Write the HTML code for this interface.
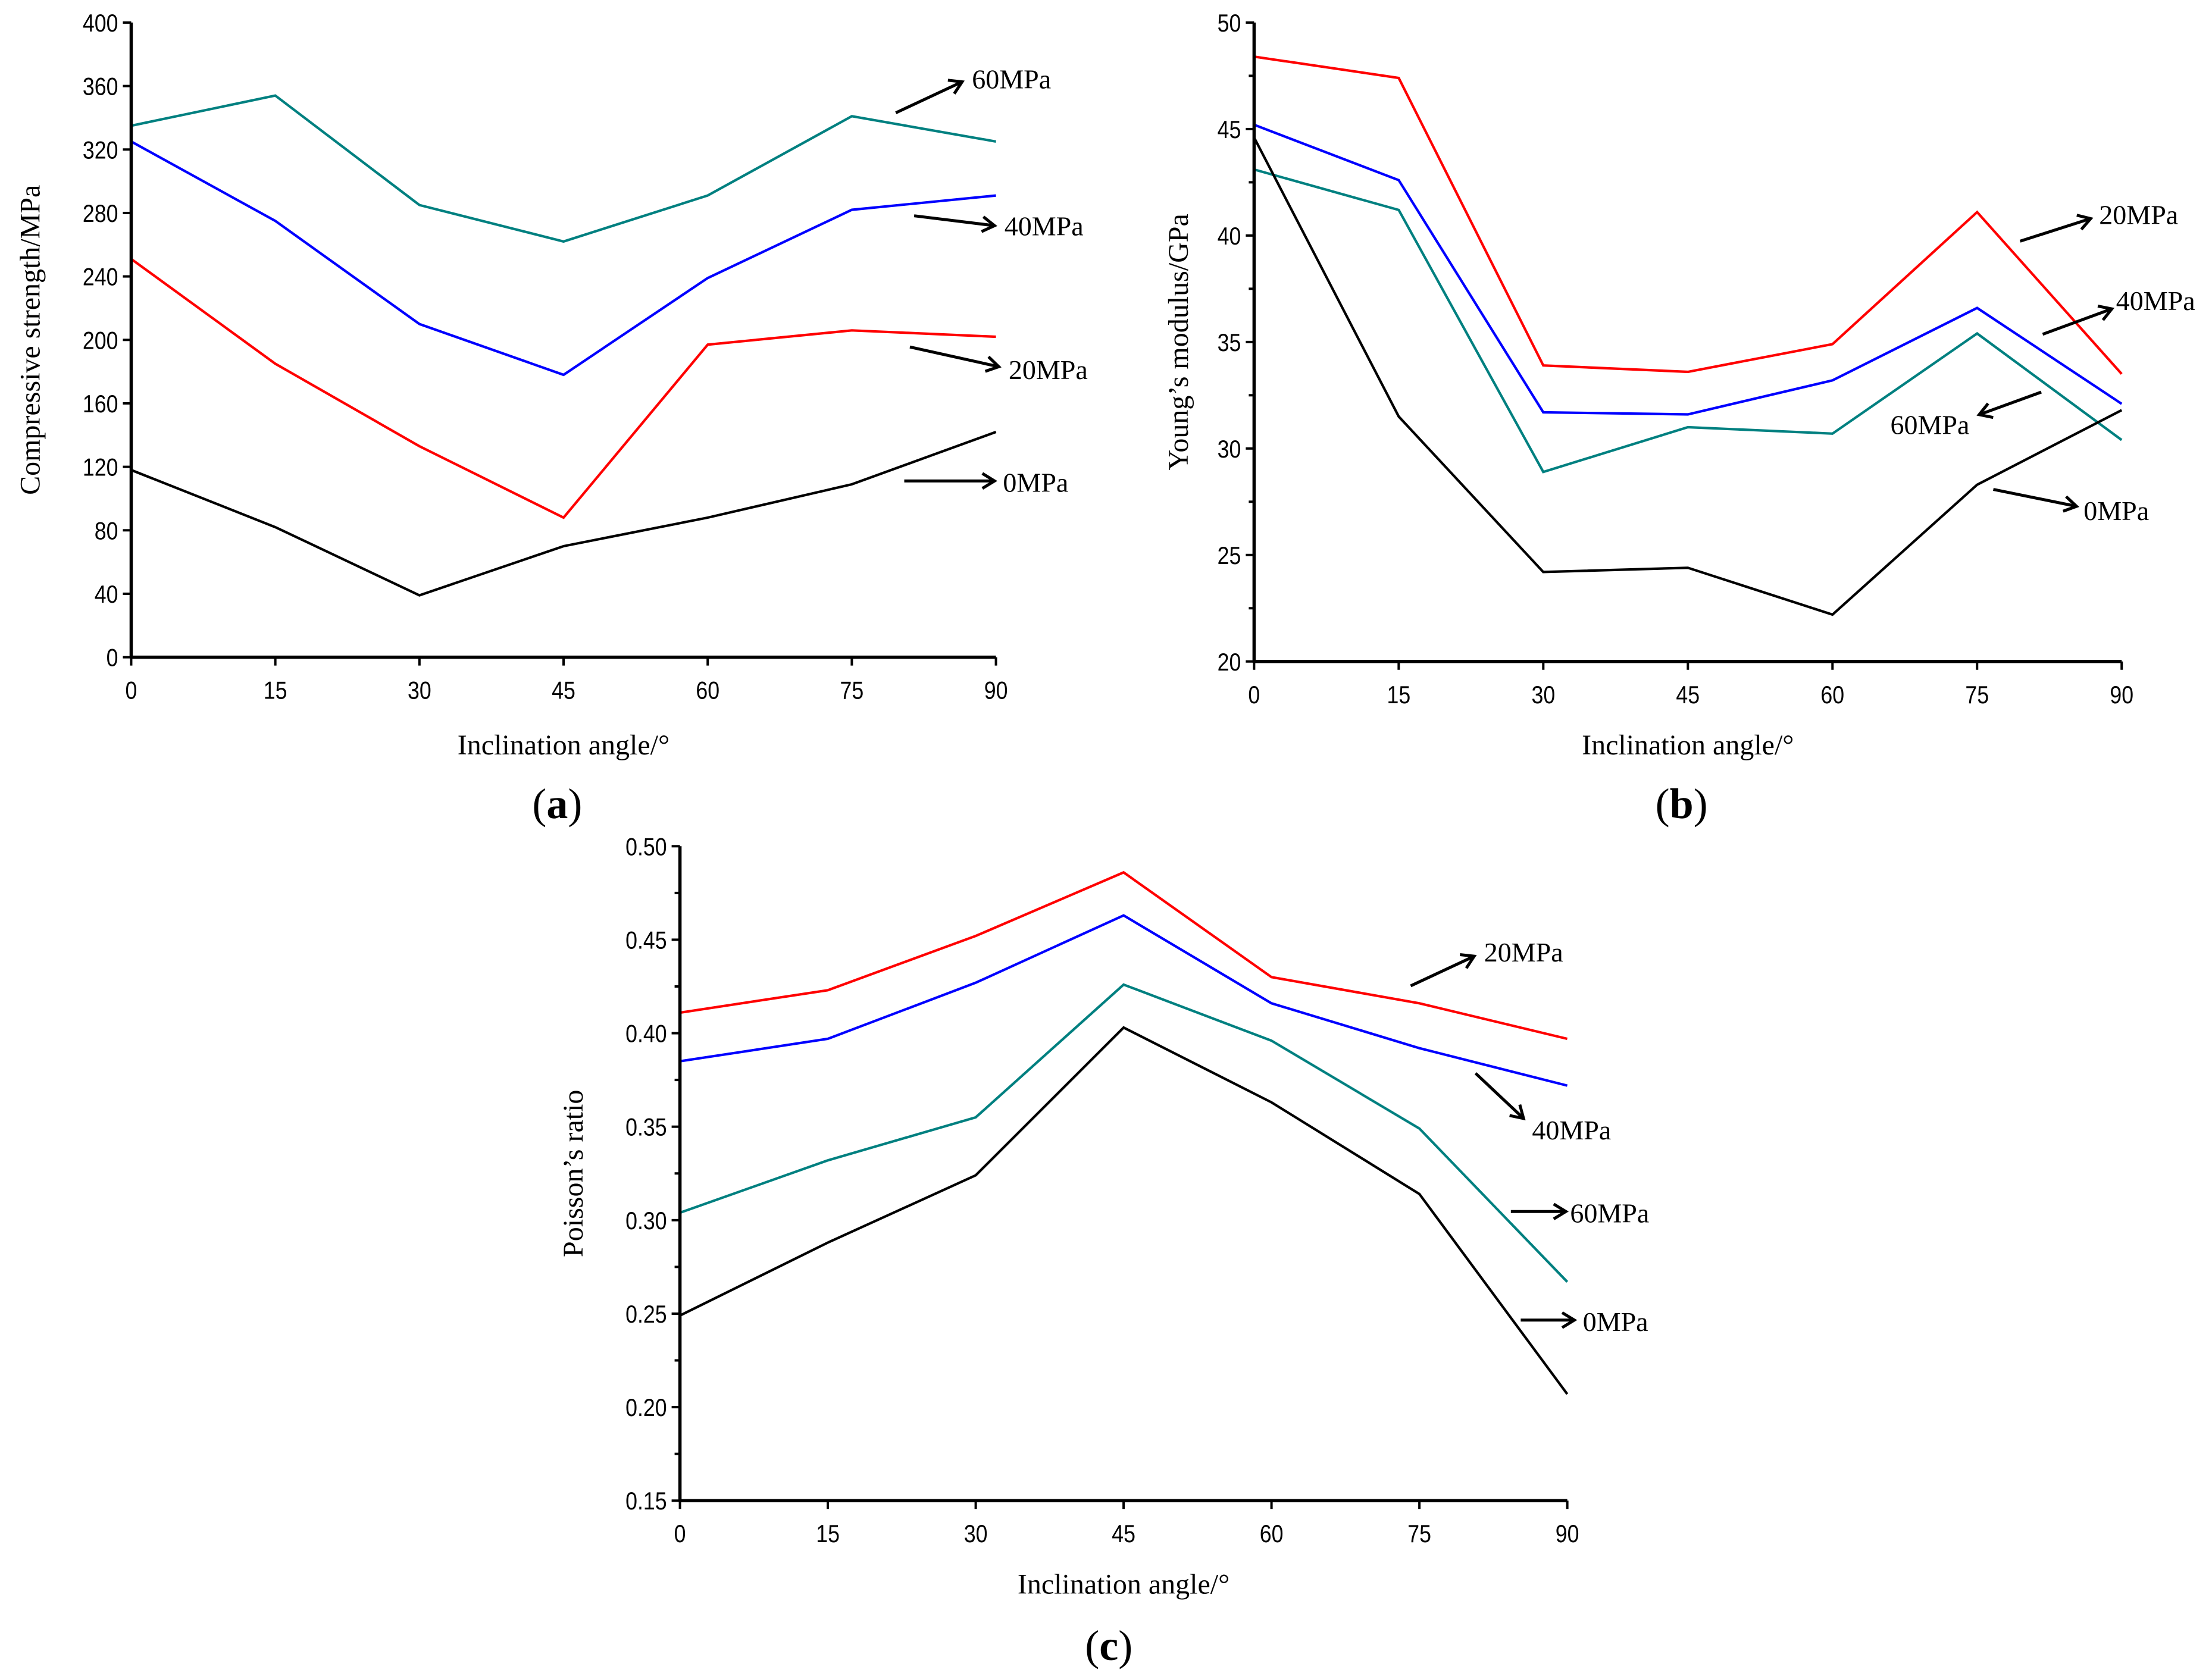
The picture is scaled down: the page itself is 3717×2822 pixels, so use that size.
<!DOCTYPE html>
<html><head><meta charset="utf-8"><style>
html,body{margin:0;padding:0;background:#fff;}
svg{display:block;}
</style></head>
<body>
<svg id="fig" xmlns="http://www.w3.org/2000/svg" width="3717" height="2822" viewBox="0 0 3717 2822"></svg>
<script>
const xCats=[0,15,30,45,60,75,90];
const a60=[335,354,285,262,291,341,325];
const a40=[325,275,210,178,239,282,291];
const a20=[251,185,133,88,197,206,202];
const a0=[118,82,39,70,88,109,142];
const aTicks=[0,40,80,120,160,200,240,280,320,360,400];
const b20=[48.4,47.4,33.9,33.6,34.9,41.1,33.5];
const b40=[45.2,42.6,31.7,31.6,33.2,36.6,32.1];
const b60=[43.1,41.2,28.9,31.0,30.7,35.4,30.4];
const b0=[44.6,31.5,24.2,24.4,22.2,28.3,31.8];
const bTicks=[20,25,30,35,40,45,50];
const c20=[0.411,0.423,0.452,0.486,0.430,0.416,0.397];
const c40=[0.385,0.397,0.427,0.463,0.416,0.392,0.372];
const c60=[0.304,0.332,0.355,0.426,0.396,0.349,0.267];
const c0=[0.249,0.288,0.324,0.403,0.363,0.314,0.207];
const cTicks=[0.15,0.20,0.25,0.30,0.35,0.40,0.45,0.50];

const S=2.3705;
const NS='http://www.w3.org/2000/svg';
const svg=document.getElementById('fig');
function el(tag,attrs,parent,text){const e=document.createElementNS(NS,tag);for(const k in attrs)e.setAttribute(k,attrs[k]);if(text!==undefined)e.textContent=text;(parent||svg).appendChild(e);return e;}
const COL={'0':'#000','20':'#ff0000','40':'#0000ff','60':'#008080'};

function panel(id,p){
  const g=el('g',{});
  
  
  const X0=p.x0*S,X1=p.x1*S,Y0=p.y0*S,Y1=p.y1*S;
  const xs=v=>X0+(v-0)/(90-0)*(X1-X0);
  const ys=v=>Y0+(v-p.ymin)/(p.ymax-p.ymin)*(Y1-Y0);
  p.series.forEach(s=>{
    const pts=xCats.map((c,i)=>xs(c).toFixed(1)+','+ys(s.v[i]).toFixed(1)).join(' ');
    const pl=el('polyline',{points:pts,fill:'none',stroke:COL[s.k],'stroke-width':4.2,'stroke-linejoin':'miter'},g);
    
    
  });
  const ax=el('g',{},g);
  
  
  el('line',{x1:X0,y1:Y0+2,x2:X0,y2:Y1,stroke:'#000','stroke-width':5.5},ax);
  el('line',{x1:X0-2,y1:Y0,x2:X1,y2:Y0,stroke:'#000','stroke-width':5.5},ax);
  p.ticks.forEach((t,i)=>{
    const y=ys(t);
    el('line',{x1:X0-14,y1:y,x2:X0,y2:y,stroke:'#000','stroke-width':4},ax);
    const tx=el('text',{x:X0-22,y:y+15,'text-anchor':'end','font-family':'Liberation Sans, sans-serif','font-size':42,transform:`translate(${X0-22},0) scale(0.85,1) translate(${-(X0-22)},0)`},ax,p.fmt(t));
    
    
    if(p.minor&&i<p.ticks.length-1){const ym=ys((t+p.ticks[i+1])/2);el('line',{x1:X0-9,y1:ym,x2:X0,y2:ym,stroke:'#000','stroke-width':4},ax);}
  });
  xCats.forEach(c=>{
    const x=xs(c);
    el('line',{x1:x,y1:Y0,x2:x,y2:Y0+14,stroke:'#000','stroke-width':4},ax);
    const tx=el('text',{x:x,y:Y0+70,'text-anchor':'middle','font-family':'Liberation Sans, sans-serif','font-size':42,transform:`translate(${x},0) scale(0.85,1) translate(${-x},0)`},ax,String(c));
    
    
  });
  const xt=el('text',{x:(X0+X1)/2,y:p.xtY*S,'text-anchor':'middle','font-family':'Liberation Serif, serif','font-size':48},g,'Inclination angle/°');
  
  
  const yt=el('text',{x:0,y:0,'text-anchor':'middle','font-family':'Liberation Serif, serif','font-size':48,transform:`translate(${p.ytX*S},${(Y0+Y1)/2}) rotate(-90)`},g,p.ytitle);
  
  
  const lb=el('text',{x:p.lab[0]*S,y:p.lab[1]*S,'text-anchor':'middle','font-family':'Liberation Serif, serif','font-size':72},g);
  
  
  el('tspan',{},lb,'(');el('tspan',{'font-weight':'bold'},lb,id);el('tspan',{},lb,')');
  p.ann.forEach(a=>{
    const ag=el('g',{},g);
    
    
    const x1=a.a[0]*S,y1=a.a[1]*S,x2=a.a[2]*S,y2=a.a[3]*S;
    el('line',{x1:x1,y1:y1,x2:x2,y2:y2,stroke:'#000','stroke-width':5},ag);
    const ang=Math.atan2(y2-y1,x2-x1),L=24,w=0.55;
    const p1=[x2-L*Math.cos(ang-w),y2-L*Math.sin(ang-w)],p2=[x2-L*Math.cos(ang+w),y2-L*Math.sin(ang+w)];
    el('polyline',{points:`${p1[0]},${p1[1]} ${x2},${y2} ${p2[0]},${p2[1]}`,fill:'none',stroke:'#000','stroke-width':5},ag);
    el('text',{x:a.p[0]*S,y:a.p[1]*S+16,'font-family':'Liberation Serif, serif','font-size':46},ag,a.t);
  });
}

panel('a',{x0:93,x1:706,y0:466,y1:16,ymin:0,ymax:400,ticks:aTicks,fmt:t=>String(t),minor:false,
  series:[{k:'60',v:a60},{k:'40',v:a40},{k:'20',v:a20},{k:'0',v:a0}],
  xtY:535,ytX:28,ytitle:'Compressive strength/MPa',lab:[395,580],
  ann:[{t:'60MPa',a:[635,80,682,58],p:[689,56]},{t:'40MPa',a:[648,153,705,160],p:[712,160]},
       {t:'20MPa',a:[645,246,708,260],p:[715,262]},{t:'0MPa',a:[641,341,705,341],p:[711,342]}]});
panel('b',{x0:889,x1:1504,y0:469,y1:16,ymin:20,ymax:50,ticks:bTicks,fmt:t=>String(t),minor:true,
  series:[{k:'20',v:b20},{k:'40',v:b40},{k:'60',v:b60},{k:'0',v:b0}],
  xtY:535,ytX:842,ytitle:'Young’s modulus/GPa',lab:[1192,580],
  ann:[{t:'20MPa',a:[1432,171,1482,155],p:[1488,152]},{t:'40MPa',a:[1448,237,1497,219],p:[1500,213]},
       {t:'60MPa',a:[1447,278,1403,294],p:[1340,301]},{t:'0MPa',a:[1413,347,1472,359],p:[1477,362]}]});
panel('c',{x0:482,x1:1111,y0:1064,y1:600,ymin:0.15,ymax:0.50,ticks:cTicks,fmt:t=>t.toFixed(2),minor:true,
  series:[{k:'20',v:c20},{k:'40',v:c40},{k:'60',v:c60},{k:'0',v:c0}],
  xtY:1130,ytX:413,ytitle:'Poisson’s ratio',lab:[786,1177],
  ann:[{t:'20MPa',a:[1000,699,1045,678],p:[1052,675]},{t:'40MPa',a:[1046,761,1080,793],p:[1086,801]},
       {t:'60MPa',a:[1071,859,1110,859],p:[1113,860]},{t:'0MPa',a:[1078,936,1116,936],p:[1122,937]}]});
</script>
</body></html>
